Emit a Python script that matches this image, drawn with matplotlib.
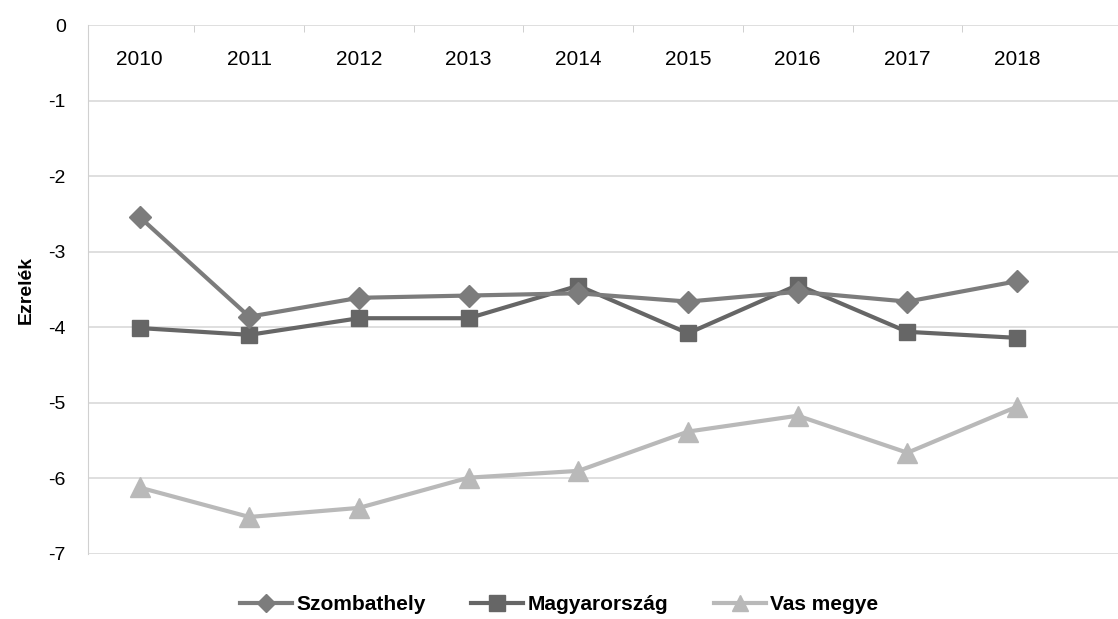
import matplotlib.pyplot as plt
from matplotlib.lines import Line2D

years = ["2010", "2011", "2012", "2013", "2014", "2015", "2016", "2017", "2018"]
szombathely = [-2.54, -3.86, -3.61, -3.58, -3.55, -3.66, -3.53, -3.66, -3.39]
magyarorszag = [-4.01, -4.10, -3.88, -3.88, -3.45, -4.08, -3.44, -4.06, -4.14]
vas_megye = [-6.12, -6.51, -6.39, -5.99, -5.90, -5.38, -5.17, -5.66, -5.05]

plt.rcParams['font.family'] = ['Liberation Sans', 'DejaVu Sans']

fig = plt.figure(figsize=(11.18, 6.19), dpi=100)
ax = fig.add_axes([88/1118, 65/619, 1 - 88/1118, 529/619])

x = list(range(len(years)))
ax.plot(x, magyarorszag, color="#666666", lw=3, marker="s", ms=12, zorder=3)
ax.plot(x, szombathely, color="#7c7c7c", lw=3, marker="D", ms=11, zorder=4)
ax.plot(x, vas_megye, color="#b9b9b9", lw=3, marker="^", ms=14, zorder=3)

ax.set_ylim(-7, 0)
ax.set_xlim(-0.47, 8.92)
ax.set_yticks(range(-7, 1))
ax.set_yticklabels([str(v) for v in range(-7, 1)], fontsize=14)
ax.grid(axis='y', color="#d9d9d9", lw=1.2)
ax.set_axisbelow(True)

ax.set_xticks(x)
ax.set_xticklabels(years, fontsize=15)
ax.xaxis.tick_top()
ax.tick_params(axis='x', which='major', length=0, pad=-32)
ax.set_xticks([i + 0.5 for i in range(len(years) - 1)], minor=True)
ax.tick_params(axis='x', which='minor', direction='in', length=5, color="#c8c8c8")
ax.tick_params(axis='y', length=0, pad=16)

for s in ['top', 'right', 'bottom']:
    ax.spines[s].set_visible(False)
ax.spines['left'].set_color("#d0d0d0")

ax.set_ylabel("Ezrelék", fontsize=14, fontweight='bold', labelpad=10)

handles = [
    Line2D([], [], color="#7c7c7c", lw=3, marker="D", ms=9),
    Line2D([], [], color="#666666", lw=3, marker="s", ms=11),
    Line2D([], [], color="#b9b9b9", lw=3, marker="^", ms=12),
]
fig.legend(handles, ["Szombathely", "Magyarország", "Vas megye"],
           loc="center", bbox_to_anchor=(0.5, 14/619), ncol=3, frameon=False,
           prop={'weight': 'bold', 'size': 15}, handlelength=2.5, columnspacing=2.2,
           handletextpad=0.2)

fig.savefig("out.png", dpi=100)
